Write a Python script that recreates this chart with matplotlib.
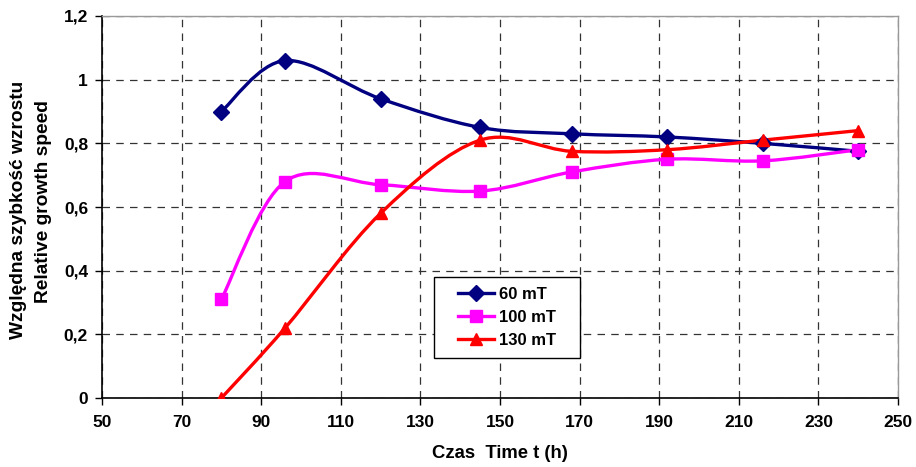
import numpy as np
import matplotlib
matplotlib.use("Agg")
import matplotlib.pyplot as plt
from matplotlib.path import Path
from matplotlib.patches import PathPatch, Rectangle
from matplotlib.ticker import FuncFormatter

plt.rcParams["font.family"] = ["Liberation Sans", "DejaVu Sans"]
plt.rcParams["font.weight"] = "bold"

# hours
time_h = [80, 96, 120, 145, 168, 192, 216, 240]
mt60 = [0.90, 1.06, 0.94, 0.85, 0.83, 0.82, 0.80, 0.775]
mt100 = [0.31, 0.68, 0.67, 0.65, 0.71, 0.75, 0.745, 0.78]
mt130 = [0.0, 0.22, 0.58, 0.81, 0.775, 0.78, 0.81, 0.84]

series = [
    ("60 mT", mt60, "#000080", "D", 8),
    ("100 mT", mt100, "#FF00FF", "s", 8.5),
    ("130 mT", mt130, "#FF0000", "^", 9),
]


def smooth_path(x, y):
    # excel-like smoothed line: cubic bezier segments (catmull-rom, tension 1/6)
    pts = np.column_stack([x, y]).astype(float)
    n = len(pts)
    verts = [pts[0]]
    codes = [Path.MOVETO]
    for i in range(n - 1):
        p0 = pts[i - 1] if i > 0 else pts[i]
        p1 = pts[i]
        p2 = pts[i + 1]
        p3 = pts[i + 2] if i + 2 < n else pts[i + 1]
        verts += [p1 + (p2 - p0) / 6, p2 - (p3 - p1) / 6, p2]
        codes += [Path.CURVE4] * 3
    return Path(verts, codes)


fig = plt.figure(figsize=(9.16, 4.67), dpi=100)
ax = fig.add_axes([102 / 916, 69 / 467, 796 / 916, 382 / 467])

for label, vals, col, mk, ms in series:
    ax.add_patch(PathPatch(smooth_path(time_h, vals), facecolor="none",
                           edgecolor=col, lw=2.4, zorder=3))
    ax.plot(time_h, vals, linestyle="none", marker=mk, ms=ms, color=col, zorder=4)
    # legend proxy
    ax.plot([], [], color=col, lw=2.4, marker=mk, ms=ms, label=label)

ax.set_xlim(50, 250)
ax.set_ylim(0, 1.2)
ax.set_xticks(range(50, 251, 20))
ax.set_yticks(np.arange(0, 1.21, 0.2))
ax.yaxis.set_major_formatter(FuncFormatter(
    lambda v, p: "0" if abs(v) < 1e-9 else ("1" if abs(v - 1) < 1e-9 else f"{v:.1f}".replace(".", ","))))

ax.grid(True, color="#333333", linestyle=(0, (6, 5)), lw=0.9)
ax.set_axisbelow(True)
for s in ["top", "right"]:
    ax.spines[s].set_color("#999999")
    ax.spines[s].set_linewidth(1.0)
for s in ["left", "bottom"]:
    ax.spines[s].set_color("black")
    ax.spines[s].set_linewidth(1.2)
ax.tick_params(direction="out", length=5, width=1, labelsize=12.5)
ax.tick_params(axis="x", pad=7)
ax.tick_params(axis="y", pad=5)
for t in ax.get_xticklabels() + ax.get_yticklabels():
    t.set_fontweight("bold")

ax.set_xlabel("Czas  Time t (h)", fontsize=13.3, fontweight="bold", labelpad=11)
fig.text(19 / 916, 1 - 210 / 467, "Względna szybkość wzrostu", rotation=90,
         ha="center", va="center", fontsize=13.8, fontweight="bold")
fig.text(44 / 916, 1 - 202 / 467, "Relative growth speed", rotation=90,
         ha="center", va="center", fontsize=13.8, fontweight="bold")

# legend box drawn separately, legend contents centred in it
ax.add_patch(Rectangle(((434 - 102) / 796, (398 - 358) / 382), 146 / 796, 81 / 382,
                       transform=ax.transAxes, facecolor="white", edgecolor="black",
                       lw=1.0, zorder=5))
leg = ax.legend(loc="center", bbox_to_anchor=(0.509, 0.211), frameon=False,
                fontsize=12, handlelength=2.2, handletextpad=0.3,
                borderaxespad=0, borderpad=0, labelspacing=0.47)
leg.set_zorder(6)
for t in leg.get_texts():
    t.set_fontweight("bold")

fig.savefig("out.png", dpi=100)
